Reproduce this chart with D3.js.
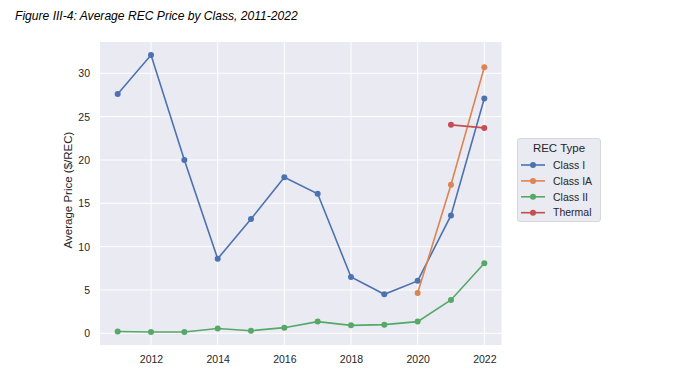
<!DOCTYPE html>
<html><head><meta charset="utf-8">
<script src="https://cdn.jsdelivr.net/npm/d3@7"></script>
<style>body{margin:0;background:#fff;} text{font-family:"Liberation Sans",Arial,sans-serif;}</style>
</head><body>
<svg id="c" width="691" height="380"></svg>
<script>
const years = [2011,2012,2013,2014,2015,2016,2017,2018,2019,2020,2021,2022];
const classI = [27.6,32.1,20.0,8.6,13.2,18.0,16.1,6.5,4.5,6.05,13.6,27.1];
const classIAYears = [2020,2021,2022];
const classIA = [4.65,17.15,30.7];
const classII = [0.2,0.15,0.15,0.55,0.3,0.65,1.35,0.92,1.0,1.35,3.85,8.08];
const thermalYears = [2021,2022];
const thermal = [24.05,23.7];
const xTicks = [2012,2014,2016,2018,2020,2022];
const yTicks = [0,5,10,15,20,25,30];
const seriesNames = ["Class I","Class IA","Class II","Thermal"];
const colors = ["#4c72b0","#dd8452","#55a868","#c44e52"];

const series = [
  {name:seriesNames[0], pts: years.map((y,i)=>[y,classI[i]])},
  {name:seriesNames[1], pts: classIAYears.map((y,i)=>[y,classIA[i]])},
  {name:seriesNames[2], pts: years.map((y,i)=>[y,classII[i]])},
  {name:seriesNames[3], pts: thermalYears.map((y,i)=>[y,thermal[i]])}
];

const svg = d3.select("#c");
const L=100, R=501.5, T=42, B=345;
const x = d3.scaleLinear().domain([2011,2022]).range([117.7,484.3]);
const y = d3.scaleLinear().domain([0,30]).range([333.3,73.3]);

svg.append("text").attr("x",15).attr("y",19.5).attr("font-size",12.1).attr("font-style","italic").attr("fill","#000")
  .text("Figure III-4: Average REC Price by Class, 2011-2022");

svg.append("rect").attr("x",L).attr("y",T).attr("width",R-L).attr("height",B-T).attr("fill","#eaeaf2");
const g = svg.append("g");
g.selectAll(".gx").data(xTicks).enter().append("line")
  .attr("x1",d=>x(d)).attr("x2",d=>x(d)).attr("y1",T).attr("y2",B).attr("stroke","#fff").attr("stroke-width",1);
g.selectAll(".gy").data(yTicks).enter().append("line")
  .attr("y1",d=>y(d)).attr("y2",d=>y(d)).attr("x1",L).attr("x2",R).attr("stroke","#fff").attr("stroke-width",1);

const xa = svg.append("g").attr("transform",`translate(0,${B})`)
  .call(d3.axisBottom(x).tickValues(xTicks).tickFormat(d3.format("d")).tickSize(0).tickPadding(10.5));
const ya = svg.append("g").attr("transform",`translate(${L},0)`)
  .call(d3.axisLeft(y).tickValues(yTicks).tickSize(0).tickPadding(10));
[xa,ya].forEach(a=>{a.select(".domain").remove();a.selectAll("text").attr("font-size",10.5).attr("fill","#262626").attr("font-family","Liberation Sans, Arial, sans-serif");});

svg.append("text").attr("transform",`translate(71.5,190) rotate(-90)`).attr("text-anchor","middle")
  .attr("font-size",11.5).attr("fill","#262626").text("Average Price ($/REC)");

const line = d3.line().x(d=>x(d[0])).y(d=>y(d[1]));
series.forEach((s,i)=>{
  svg.append("path").datum(s.pts).attr("d",line).attr("fill","none").attr("stroke",colors[i]).attr("stroke-width",1.6);
  svg.selectAll(null).data(s.pts).enter().append("circle").attr("cx",d=>x(d[0])).attr("cy",d=>y(d[1])).attr("r",3).attr("fill",colors[i]);
});

const lg = svg.append("g");
lg.append("rect").attr("x",517.5).attr("y",138.5).attr("width",83).attr("height",83).attr("rx",2.5)
  .attr("fill","#eaeaf2").attr("stroke","#d0d0d0").attr("stroke-width",0.8);
lg.append("text").attr("x",559).attr("y",152).attr("text-anchor","middle").attr("font-size",11.5).attr("fill","#262626").text("REC Type");
seriesNames.forEach((n,i)=>{
  const yy = 165 + i*15.9;
  lg.append("line").attr("x1",521).attr("x2",545).attr("y1",yy).attr("y2",yy).attr("stroke",colors[i]).attr("stroke-width",1.6);
  lg.append("circle").attr("cx",533).attr("cy",yy).attr("r",3).attr("fill",colors[i]);
  lg.append("text").attr("x",553).attr("y",yy+3.7).attr("font-size",10.5).attr("fill","#262626").text(n);
});
</script>
</body></html>
